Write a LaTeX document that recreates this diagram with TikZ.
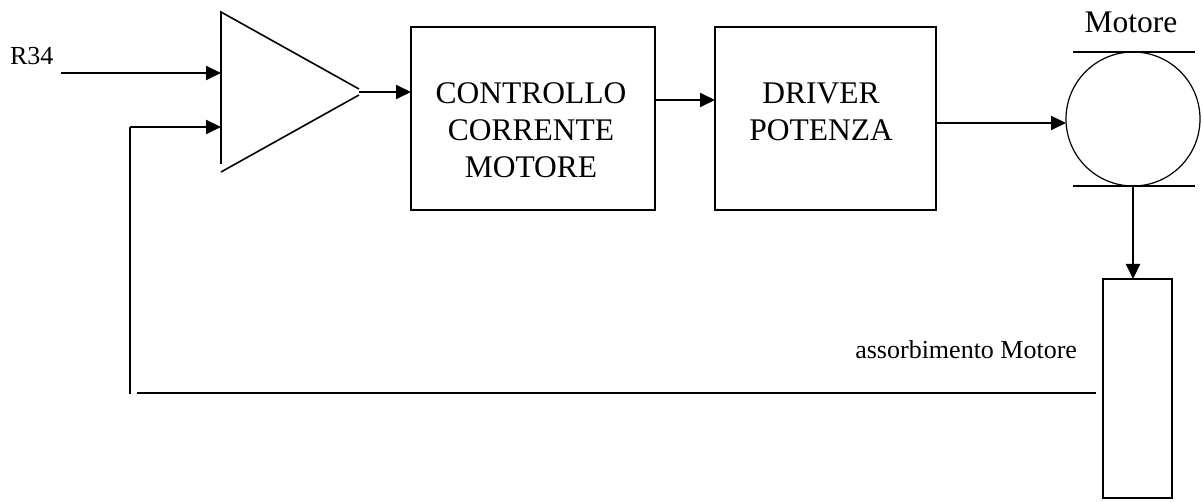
\documentclass[tikz,border=0pt]{standalone}
\usepackage{fontspec}
\setmainfont{Liberation Serif}
\usetikzlibrary{positioning,calc,arrows.meta}

\begin{document}
\begin{tikzpicture}
        [x=1pt,y=-1pt,
        every node/.style={inner sep=0pt,outer sep=0pt},
        blocco/.style={draw=black,line width=1.6pt,minimum width=244pt,minimum height=183pt},
        testo/.style={font=\fontsize{31.5}{37}\selectfont,align=center},
        piccolo/.style={font=\fontsize{26}{30}\selectfont},
        freccia/.style={-{Triangle[length=15pt,width=14pt]},line width=2pt},
        linea/.style={line width=1.6pt},
        sottile/.style={line width=1.2pt}]
        \useasboundingbox (0,0) rectangle (1202,502);
        % amplificatore
        \draw[linea] (221,164) -- (221,12) -- (359,89);
        \draw[linea] (221,172) -- (359,95);
        \coordinate (amp) at (359,92);
        \coordinate (ampP) at (221,73);
        \coordinate (ampN) at (221,127);
        % blocchi
        \node[blocco] (ctrl) at (533,118.5) {};
        \node[testo,anchor=north] (ctrlT) at (531,83) {CONTROLLO\\CORRENTE\\MOTORE};
        \node[blocco,minimum width=221pt] (drv) at (825.5,118.5) {};
        \node[testo,anchor=north] (drvT) at (821,83) {DRIVER\\POTENZA};
        % motore
        \node[draw,circle,sottile,minimum size=134pt] (mot) at (1133,119) {};
        \draw[sottile] ([xshift=-60pt]mot.north) -- ([xshift=62pt]mot.north);
        \draw[sottile] ([xshift=-60pt]mot.south) -- ([xshift=62pt]mot.south);
        \node[testo,anchor=base] (motT) at (1131,33) {Motore};
        \node[draw,line width=1.4pt,minimum width=69pt,minimum height=219pt] (ass) at (1137.5,388.5) {};
        \node[piccolo,anchor=base east] (assT) at (1077,359) {assorbimento Motore};
        % ingressi
        \node[piccolo,anchor=base west] (r34) at (10,65) {R34};
        \coordinate (r34in) at (61,73);
        \coordinate (fbtop) at (130,127);
        \coordinate (fbbot) at (130,394);
        \coordinate (fbh) at (137,393);
        \coordinate (fbend) at (1096,393);
        % collegamenti
        \draw[freccia] (r34in) -- (ampP);
        \draw[freccia] (fbtop) -- (ampN);
        \draw[linea] (fbtop) -- (fbbot);
        \draw[linea] (fbh) -- (fbend);
        \draw[freccia] (amp) -- (amp -| ctrl.west);
        \draw[freccia] (ctrl.east |- 0,100) -- (drv.west |- 0,100);
        \draw[freccia] (drv.east |- 0,123) -- (mot.west |- 0,123);
        \draw[freccia] (mot.south) -- (mot.south |- ass.north);
\end{tikzpicture}
\end{document}
